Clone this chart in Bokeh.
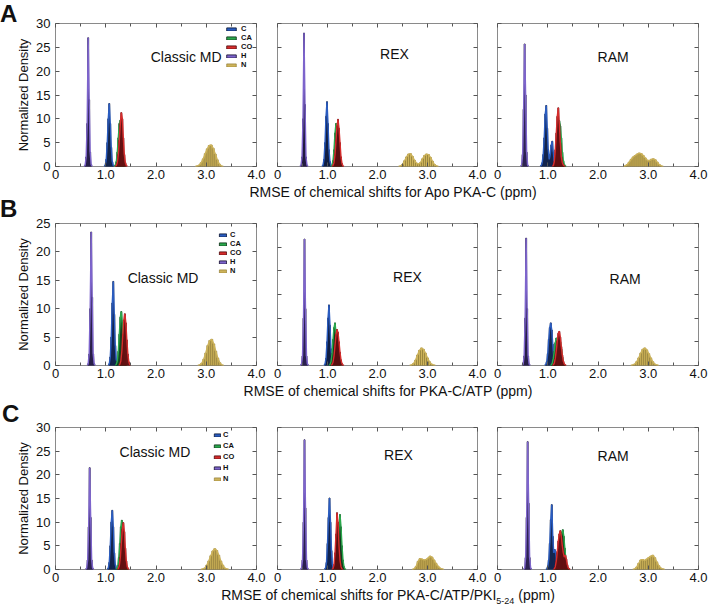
from bokeh.plotting import figure
from bokeh.models import (LinearAxis, Legend, LegendItem, Label, Div, FixedTicker,
                          Range1d, CustomLabelingPolicy)
from bokeh.layouts import row, column
from bokeh.embed import file_html
from bokeh.resources import INLINE

# ---------------- data ----------------
SERIES = ["C", "CA", "CO", "H", "N"]
DRAW_ORDER = ["N", "H", "C", "CA", "CO"]
X_TICKS = [0, 1, 2, 3, 4]
X_TICK_LABELS = ["0", "1.0", "2.0", "3.0", "4.0"]
X_MINOR = [0.5, 1.5, 2.5, 3.5]
FINE_BIN = 0.02   # bin width (ppm) of C, CA, CO, H histograms
N_BIN = 0.04      # bin width (ppm) of N histograms
METHODS = ["Classic MD", "REX", "RAM"]
LETTERS = ["A", "B", "C"]
Y_MAX = [[30, 30, 30], [25, 30, 30], [30, 30, 30]]

# each entry: (first bin centre in ppm, bin heights)
# --- A: Apo PKA-C ---
apo_md_C = (0.99, [0.3, 1.5, 5, 10, 13.2, 9, 4, 1, 0.2])
apo_md_CA = (1.19, [0.3, 1, 3, 6, 9, 9.7, 7, 4, 1.5, 0.3])
apo_md_CO = (1.21, [0.2, 0.8, 2.5, 5.5, 9, 11.3, 10, 6, 2.5, 0.8, 0.2])
apo_md_H = (0.59, [0.3, 2, 9, 27, 14, 3, 0.4])
apo_md_N = (2.82, [0.1, 0.3, 0.8, 1.6, 2.7, 3.7, 4.4, 4.5, 3.8, 2.6, 1.4, 0.5, 0.1])

apo_rex_C = (0.91, [0.3, 1.5, 5, 10.5, 13.6, 9, 3.5, 1, 0.2])
apo_rex_CA = (1.09, [0.3, 1.2, 3.5, 7, 9, 8.5, 5, 2, 0.6, 0.1])
apo_rex_CO = (1.11, [0.2, 0.8, 2.5, 5.5, 8.5, 9.9, 8, 5, 2, 0.6, 0.1])
apo_rex_H = (0.47, [0.3, 2, 10, 28, 13, 2, 0.3])
apo_rex_N = (2.46, [0.1, 0.4, 1.2, 2.0, 2.6, 2.7, 2.1, 1.3, 0.7, 0.5, 0.8, 1.6, 2.3, 2.6, 2.5, 1.9, 1.1, 0.4, 0.1])

apo_ram_C = (0.87, [0.2, 0.8, 2.5, 6, 11, 12.8, 8, 3.5, 1.5, 2.5, 4.5, 5.3, 3, 1, 0.2])
apo_ram_CA = (1.13, [0.2, 1, 3, 5.5, 8, 9.6, 8.5, 6, 3, 1.2, 0.4, 0.1])
apo_ram_CO = (1.11, [0.2, 1, 3.5, 7, 10.5, 12.3, 9, 5, 2, 0.8, 0.3, 0.1])
apo_ram_H = (0.48, [0.3, 2.5, 12, 25.7, 15, 3, 0.3])
apo_ram_N = (2.54, [0.1, 0.4, 0.9, 1.5, 2.0, 2.3, 2.6, 2.8, 2.7, 2.3, 1.8, 1.3, 1.2, 1.5, 1.6, 1.4, 0.9, 0.4, 0.1])

# --- B: PKA-C/ATP ---
atp_md_C = (1.07, [0.3, 1.5, 5, 11, 14.8, 9, 3.5, 1, 0.2])
atp_md_CA = (1.21, [0.2, 0.8, 2.5, 5.5, 8.5, 9.5, 7.5, 4, 1.5, 0.5, 0.1])
atp_md_CO = (1.28, [0.2, 0.8, 2.5, 5.5, 8, 9.1, 7.5, 4.5, 2, 0.6, 0.1])
atp_md_H = (0.65, [0.3, 2, 10, 23.5, 12, 2, 0.3])
atp_md_N = (2.87, [0.1, 0.4, 1.1, 2.2, 3.5, 4.4, 4.6, 3.8, 2.5, 1.3, 0.5, 0.1])

atp_rex_C = (0.95, [0.3, 1.5, 5, 10, 12.8, 8.5, 3.5, 1, 0.2])
atp_rex_CA = (1.05, [0.2, 0.8, 2.5, 5.5, 8, 9, 7, 4, 1.5, 0.5, 0.1])
atp_rex_CO = (1.09, [0.2, 0.7, 2, 4.2, 6.5, 7.6, 7, 5, 2.8, 1.2, 0.4, 0.1])
atp_rex_H = (0.48, [0.3, 2, 10, 26.7, 12, 2, 0.3])
atp_rex_N = (2.68, [0.1, 0.4, 1.1, 2.2, 3.2, 3.7, 3.4, 2.6, 1.6, 0.8, 0.3, 0.1])

atp_ram_C = (0.96, [0.2, 0.8, 2.5, 5.5, 8, 9, 7.5, 4.5, 2, 0.6, 0.1])
atp_ram_CA = (1.07, [0.1, 0.5, 1.5, 3, 4.8, 5.8, 5.2, 4.8, 5.3, 5.0, 3.5, 1.8, 0.6, 0.1])
atp_ram_CO = (1.11, [0.1, 0.5, 1.5, 3.2, 5.2, 6.8, 7.2, 6, 4, 2.2, 0.9, 0.3, 0.1])
atp_ram_H = (0.51, [0.3, 2, 10, 26.9, 12, 2, 0.3])
atp_ram_N = (2.69, [0.1, 0.3, 0.8, 1.6, 2.6, 3.4, 3.7, 3.3, 2.5, 1.6, 0.8, 0.3, 0.1])

# --- C: PKA-C/ATP/PKI5-24 ---
pki_md_C = (1.05, [0.3, 1.5, 5, 10, 12.5, 9, 3.5, 1, 0.2])
pki_md_CA = (1.22, [0.2, 0.8, 2.5, 5.5, 9, 10.4, 8, 4.5, 1.8, 0.5, 0.1])
pki_md_CO = (1.25, [0.2, 0.8, 2.5, 5.5, 8.5, 9.9, 8, 4.5, 1.8, 0.5, 0.1])
pki_md_H = (0.62, [0.3, 2, 9, 21.5, 11, 2, 0.3])
pki_md_N = (2.93, [0.1, 0.3, 0.9, 1.8, 2.9, 3.9, 4.4, 4.0, 3.0, 1.8, 0.9, 0.3, 0.1])

pki_rex_C = (0.96, [0.3, 1.5, 5.5, 11, 15.1, 10, 4, 1, 0.2])
pki_rex_CA = (1.15, [0.2, 0.8, 2.5, 5.5, 9, 11.6, 9, 5, 2, 0.6, 0.1])
pki_rex_CO = (1.11, [0.2, 1, 3.5, 7.5, 12, 10, 5, 2, 0.6, 0.1])
pki_rex_H = (0.48, [0.3, 2, 10, 27.4, 13, 2, 0.3])
pki_rex_N = (2.73, [0.1, 0.6, 1.7, 2.3, 2.2, 2.0, 2.1, 2.4, 2.8, 2.6, 2.0, 1.3, 0.7, 0.3, 0.1])

pki_ram_C = (0.98, [0.1, 0.6, 2, 5.5, 10.5, 13.7, 7, 3.5, 4.2, 3.5, 1.5, 0.5, 0.1])
pki_ram_CA = (1.16, [0.1, 0.5, 1.5, 3, 4.8, 6.2, 7.8, 8.4, 7, 4.5, 2.3, 0.9, 0.3, 0.1])
pki_ram_CO = (1.13, [0.1, 0.6, 1.8, 3.8, 6, 7.5, 8.2, 7, 5, 3.5, 2.6, 3.0, 2.2, 1, 0.3, 0.1])
pki_ram_H = (0.54, [0.3, 2.5, 11, 27, 14, 2.5, 0.3])
pki_ram_N = (2.73, [0.1, 0.5, 1.3, 2.0, 2.1, 1.9, 2.2, 2.5, 2.8, 3.0, 2.5, 1.6, 0.8, 0.3, 0.1])

PANELS = [
    [
        {"C": apo_md_C, "CA": apo_md_CA, "CO": apo_md_CO, "H": apo_md_H, "N": apo_md_N},
        {"C": apo_rex_C, "CA": apo_rex_CA, "CO": apo_rex_CO, "H": apo_rex_H, "N": apo_rex_N},
        {"C": apo_ram_C, "CA": apo_ram_CA, "CO": apo_ram_CO, "H": apo_ram_H, "N": apo_ram_N},
    ],
    [
        {"C": atp_md_C, "CA": atp_md_CA, "CO": atp_md_CO, "H": atp_md_H, "N": atp_md_N},
        {"C": atp_rex_C, "CA": atp_rex_CA, "CO": atp_rex_CO, "H": atp_rex_H, "N": atp_rex_N},
        {"C": atp_ram_C, "CA": atp_ram_CA, "CO": atp_ram_CO, "H": atp_ram_H, "N": atp_ram_N},
    ],
    [
        {"C": pki_md_C, "CA": pki_md_CA, "CO": pki_md_CO, "H": pki_md_H, "N": pki_md_N},
        {"C": pki_rex_C, "CA": pki_rex_CA, "CO": pki_rex_CO, "H": pki_rex_H, "N": pki_rex_N},
        {"C": pki_ram_C, "CA": pki_ram_CA, "CO": pki_ram_CO, "H": pki_ram_H, "N": pki_ram_N},
    ],
]

TITLE_MAIN = [
    "RMSE of chemical shifts for Apo PKA-C",
    "RMSE of chemical shifts for PKA-C/ATP",
    "RMSE of chemical shifts for PKA-C/ATP/PKI",
]
TITLE_SUB = ["", "", "5-24"]
TITLE_END = " (ppm)"

# ---------------- styles / positions ----------------
FONT = "Liberation Sans"
COLORS = {"C": "#2a5cc0", "CA": "#2aa84c", "CO": "#d62c2c", "H": "#7d64cc", "N": "#cdb35a"}
EDGE = {"C": "#0a1430", "CA": "#0a2a14", "CO": "#4a0a0c", "H": "#140e2c", "N": "#86722c"}

FRAME_W = [201, 200, 201]
FRAME_H = [143, 142, 142]
BORDER_L = [55, 11, 10]
BORDER_R = [10, 10, 10]
BORDER_T = 9
BORDER_B = 19
LETTER_DIV_H = [14, 15, 20]
LETTER_MARGIN_TOP = [2, -2, 4]
LETTER_MARGIN_LEFT = [0, 0, 2]
TITLE_DIV_H = [14, 14, 18]
TITLE_SHIFT = [-1, -3, -2]
TITLE_CENTER = [393, 388, 388]
METHOD_XY = [
    [(2.6, 22.9), (2.34, 23.5), (2.3, 23.0)],
    [(2.14, 15.4), (2.6, 18.6), (2.54, 18.3)],
    [(1.98, 24.8), (2.42, 24.2), (2.3, 23.9)],
]
LEGEND_LOC = [(170, 97), (163, 90), (158, 85)]
LEGEND_ROW_H = [8, 9, 11]
LEGEND_GLYPH_W = [12, 9, 8]
LEGEND_STANDOFF = [4, 3, 2]

NO_LABELS = CustomLabelingPolicy(code="""
try { return new indices.constructor(indices.size) } catch (e) { return indices }
""")


def style_axis(ax, show_labels):
    ax.axis_line_color = None
    ax.major_tick_in = 4
    ax.major_tick_out = 0
    ax.minor_tick_in = 3
    ax.minor_tick_out = 0
    ax.major_tick_line_color = "#555555"
    ax.minor_tick_line_color = "#555555"
    if show_labels:
        ax.major_label_text_font = FONT
        ax.major_label_text_font_size = "13px"
        ax.major_label_text_color = "#111111"
        ax.major_label_standoff = 3
    else:
        ax.major_label_text_font_size = "1px"
        ax.major_label_standoff = 0
        ax.major_label_policy = NO_LABELS


def make_panel(r, c):
    ymax = Y_MAX[r][c]
    p = figure(frame_width=FRAME_W[c], frame_height=FRAME_H[r],
               x_range=Range1d(0, 4), y_range=Range1d(0, ymax),
               output_backend="svg", toolbar_location=None,
               x_axis_location=None, y_axis_location=None,
               min_border_left=BORDER_L[c], min_border_right=BORDER_R[c],
               min_border_top=BORDER_T, min_border_bottom=BORDER_B)
    p.grid.visible = False
    p.outline_line_color = "#8a8a8a"
    p.outline_line_width = 1
    p.background_fill_color = "white"
    p.border_fill_color = None

    xb = LinearAxis(ticker=FixedTicker(ticks=X_TICKS, minor_ticks=X_MINOR),
                    major_label_overrides=dict(zip(X_TICKS, X_TICK_LABELS)))
    style_axis(xb, True)
    p.add_layout(xb, "below")
    xa = LinearAxis(ticker=FixedTicker(ticks=X_TICKS, minor_ticks=X_MINOR))
    style_axis(xa, False)
    p.add_layout(xa, "above")
    yl = LinearAxis(ticker=FixedTicker(ticks=list(range(0, ymax + 1, 5))))
    style_axis(yl, c == 0)
    if c == 0:
        yl.major_label_standoff = 5
        yl.axis_label = "Normalized Density"
        yl.axis_label_text_font = FONT
        yl.axis_label_text_font_size = "13px"
        yl.axis_label_text_font_style = "normal"
        yl.axis_label_text_color = "#111111"
        yl.axis_label_standoff = 2
    p.add_layout(yl, "left")
    yr = LinearAxis(ticker=FixedTicker(ticks=list(range(0, ymax + 1, 5))))
    style_axis(yr, False)
    p.add_layout(yr, "right")

    data = PANELS[r][c]
    bars = {}
    for s in DRAW_ORDER:
        start, heights = data[s]
        bw = N_BIN if s == "N" else FINE_BIN
        xs = [start + i * bw for i in range(len(heights))]
        bars[s] = p.vbar(x=xs, top=heights, bottom=0, width=bw,
                         fill_color=COLORS[s], line_color=EDGE[s],
                         line_width=0.6 if s == "N" else 0.8)
        px = [xs[0] - bw] + xs + [xs[-1] + bw]
        py = [0] + list(heights) + [0]
        p.line(px, py, line_color=COLORS[s], line_width=1.4)

    mx, my = METHOD_XY[r][c]
    p.add_layout(Label(x=mx, y=my, text=METHODS[c], text_align="center",
                       text_baseline="middle", text_font=FONT,
                       text_font_size="14px", text_color="#111111"))

    if c == 0:
        items = [LegendItem(label=s, renderers=[bars[s]]) for s in SERIES]
        leg = Legend(items=items, location=LEGEND_LOC[r],
                     label_text_font=FONT, label_text_font_size="7.5px",
                     label_text_font_style="bold", label_text_color="#111111",
                     glyph_width=LEGEND_GLYPH_W[r], glyph_height=4,
                     label_height=LEGEND_ROW_H[r], label_width=8,
                     label_standoff=LEGEND_STANDOFF[r], spacing=0, padding=0,
                     margin=0, border_line_color=None, background_fill_alpha=0)
        p.add_layout(leg)
    return p


def make_letter(r):
    html = ('<div style="margin-top:%dpx;margin-left:%dpx;font-family:\'Liberation Sans\','
            'Arial,sans-serif;font-size:24px;font-weight:bold;line-height:24px;'
            'color:#111111;overflow:visible">%s</div>'
            % (LETTER_MARGIN_TOP[r], LETTER_MARGIN_LEFT[r], LETTERS[r]))
    return Div(text=html, width=40, height=LETTER_DIV_H[r], margin=0,
               styles={"overflow": "visible", "z-index": "5"})


def make_title(r):
    sub = TITLE_SUB[r]
    txt = TITLE_MAIN[r]
    if sub:
        txt += '<sub style="font-size:9px">' + sub + '</sub>'
    txt += TITLE_END
    ml = TITLE_CENTER[r] - 208
    html = ('<div style="margin-top:%dpx;margin-left:%dpx;width:416px;text-align:center;'
            'font-family:\'Liberation Sans\',Arial,sans-serif;font-size:14px;'
            'line-height:16px;color:#111111;white-space:nowrap">%s</div>'
            % (TITLE_SHIFT[r], ml, txt))
    return Div(text=html, width=708, height=TITLE_DIV_H[r], margin=0)


children = []
for r in range(3):
    children.append(make_letter(r))
    children.append(row(*[make_panel(r, c) for c in range(3)], spacing=0))
    children.append(make_title(r))

layout = column(*children, spacing=0)
open("out.html", "w").write(file_html(layout, INLINE))
